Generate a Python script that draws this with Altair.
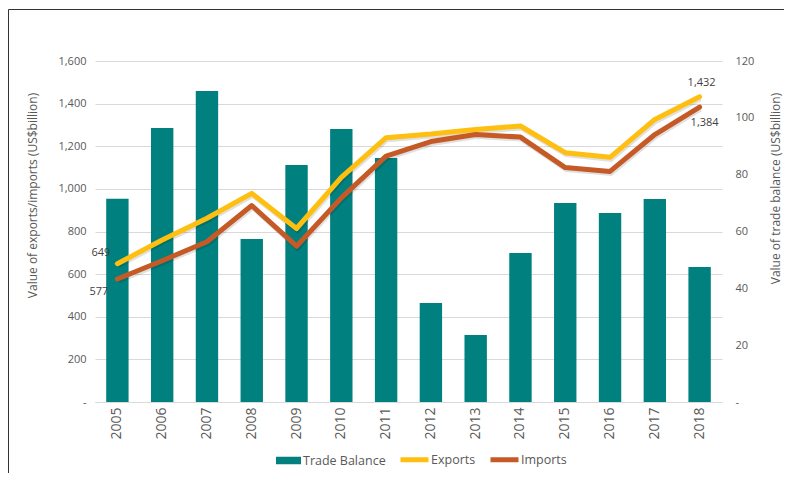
import altair as alt
import pandas as pd

years = ["2005", "2006", "2007", "2008", "2009", "2010", "2011",
         "2012", "2013", "2014", "2015", "2016", "2017", "2018"]
exports = [649, 760, 862, 979, 814, 1054, 1240, 1257, 1279, 1295, 1170, 1148, 1326, 1432]
imports = [577, 663, 752, 922, 731, 958, 1154, 1222, 1255, 1243, 1100, 1082, 1255, 1384]
balance = [71.5, 96.4, 109.4, 57.4, 83.4, 96.1, 85.9, 34.8, 23.6, 52.4, 70.0, 66.5, 71.4, 47.5]

TEAL = "#00807F"
YELLOW = "#FFBF10"
RUST = "#C55A27"
GRID = "#D9D9D9"
TXT = "#595959"
FONT = "Open Sans"

bars_df = pd.DataFrame({"year": years, "value": balance, "series": "Trade Balance"})
lines_df = pd.DataFrame({
    "year": years * 2,
    "value": exports + imports,
    "series": ["Exports"] * len(years) + ["Imports"] * len(years),
})

x_enc = alt.X("year:N", sort=years, title=None,
              scale=alt.Scale(paddingInner=0.5, paddingOuter=0.25),
              axis=alt.Axis(labelAngle=-90, ticks=False, domainColor=GRID,
                            labelPadding=5, labelColor=TXT, labelFontSize=14, labelFont=FONT))

bars = alt.Chart(bars_df).mark_bar(color=TEAL).encode(
    x=x_enc,
    y=alt.Y("value:Q", scale=alt.Scale(domain=[0, 120]),
            axis=alt.Axis(orient="right", values=list(range(0, 121, 20)), grid=False,
                          domain=False, ticks=False, labelPadding=13,
                          labelExpr="datum.value == 0 ? '-' : format(datum.value, ',')",
                          title="Value of trade balance (US$billion)",
                          titleX=53, titleY=127, titleBaseline="middle", titleAngle=-90)),
    color=alt.Color("series:N",
                    scale=alt.Scale(domain=["Trade Balance"], range=[TEAL]),
                    legend=alt.Legend(orient="none", legendX=181, legendY=387, title=None,
                                      symbolType="M-1,-0.3L1,-0.3L1,0.3L-1,0.3Z",
                                      symbolSize=625, symbolStrokeWidth=0, labelOffset=2,
                                      padding=0)),
)

line_y = alt.Y("value:Q", scale=alt.Scale(domain=[0, 1600]),
               axis=alt.Axis(orient="left", values=list(range(0, 1601, 200)), grid=True,
                             gridColor=GRID, domain=False, ticks=False, labelPadding=9,
                             labelExpr="datum.value == 0 ? '-' : format(datum.value, ',')",
                             title="Value of exports/imports  (US$billion)",
                             titleX=-63, titleY=134, titleBaseline="middle", titleAngle=-90))

shadow = alt.Chart(lines_df).mark_line(strokeWidth=5, color="#000000", opacity=0.12,
                                       xOffset=1, yOffset=2).encode(
    x=x_enc,
    y=line_y,
    detail="series:N",
)

lines = alt.Chart(lines_df).mark_line(strokeWidth=5, strokeJoin="round", strokeCap="round").encode(
    x=x_enc,
    y=line_y,
    color=alt.Color("series:N",
                    scale=alt.Scale(domain=["Exports", "Imports"], range=[YELLOW, RUST]),
                    legend=alt.Legend(orient="none", legendX=303, legendY=382, title=None,
                                      direction="horizontal", symbolType="stroke",
                                      symbolSize=784, symbolStrokeWidth=5, labelOffset=0,
                                      columnPadding=4, padding=0)),
)


def lab(series, year, **kw):
    return alt.Chart(lines_df).transform_filter(
        (alt.datum.series == series) & (alt.datum.year == year)
    ).transform_calculate(txt="format(datum.value, ',')").mark_text(
        fontSize=11, font=FONT, color="#404040", **kw
    ).encode(x=x_enc, y=line_y, text="txt:N")


labels = [
    lab("Exports", "2005", align="right", dx=-7, dy=-11),
    lab("Imports", "2005", align="right", dx=-9, dy=13),
    lab("Exports", "2018", align="center", dx=2, dy=-14),
    lab("Imports", "2018", align="center", dx=5, dy=16),
]

line_layer = alt.layer(shadow, lines, *labels)

frame_df = pd.DataFrame({"a": [0]})
frame_left = alt.Chart(frame_df).mark_rule(color="#333333", strokeWidth=1).encode(
    x=alt.value(-86.5), y=alt.value(-51.5), y2=alt.value(430))
frame_top = alt.Chart(frame_df).mark_rule(color="#333333", strokeWidth=1).encode(
    x=alt.value(-86.5), x2=alt.value(700), y=alt.value(-51.5))

chart = alt.layer(
    bars, line_layer, frame_left, frame_top
).resolve_scale(
    y="independent", color="independent"
).properties(
    width=627, height=341,
    autosize=alt.AutoSizeParams(type="none"),
    padding={"left": 87, "top": 53, "right": 62, "bottom": 71},
).configure(
    font=FONT,
).configure_axis(
    labelFont=FONT, labelFontSize=11, labelColor=TXT,
    titleFont=FONT, titleFontSize=12, titleColor=TXT, titleFontWeight="normal",
).configure_legend(
    labelFont=FONT, labelFontSize=12.5, labelColor=TXT,
).configure_view(stroke=None)

chart.save("out.html", embed_options={"renderer": "svg", "actions": False})
